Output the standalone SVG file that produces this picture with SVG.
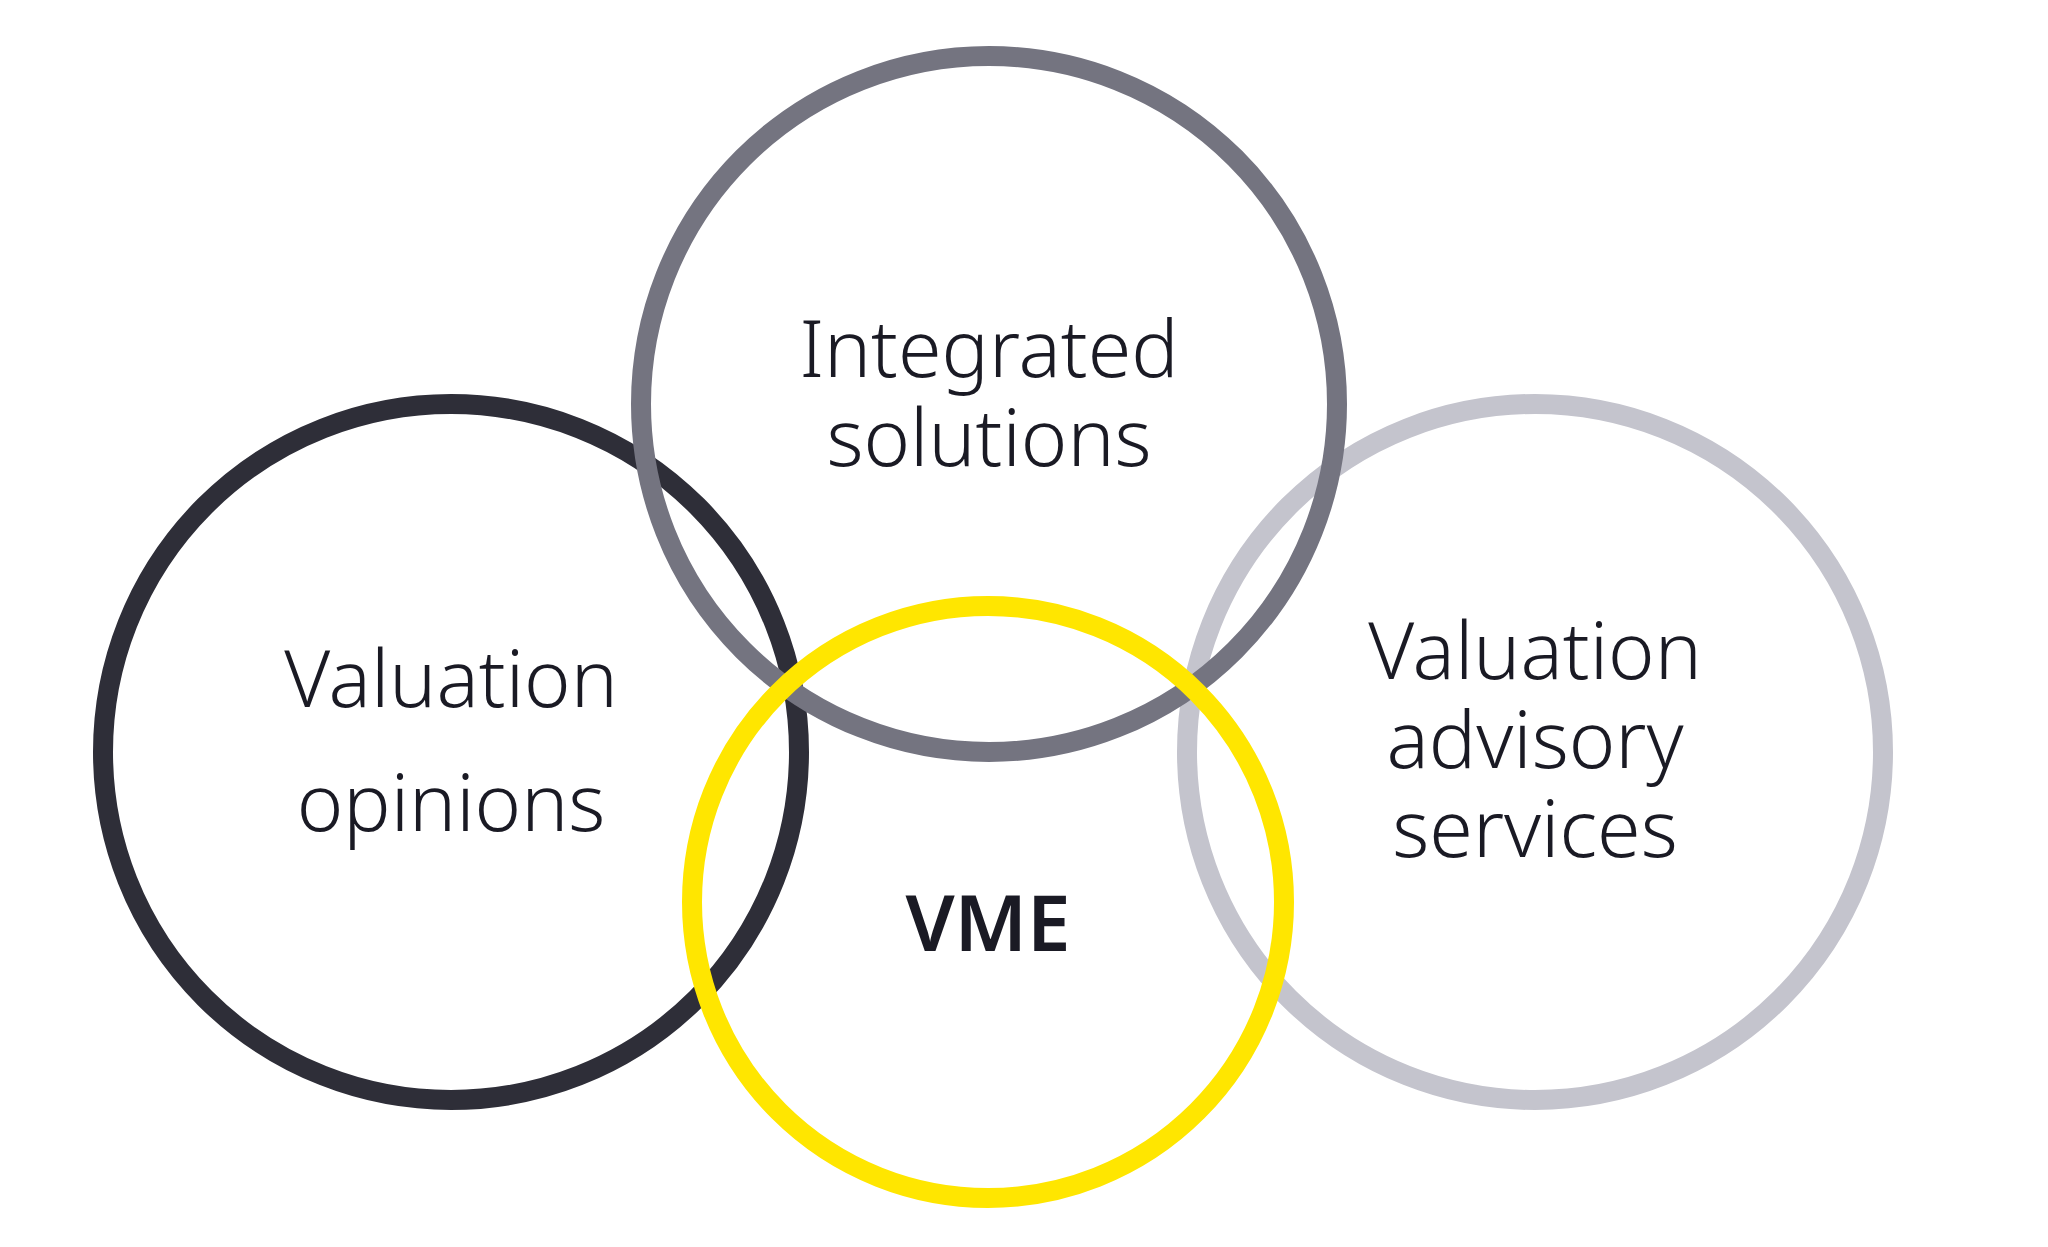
<svg xmlns="http://www.w3.org/2000/svg" width="2048" height="1247" viewBox="0 0 2048 1247">
<style>
.ring{fill:none;stroke-width:20}
.lbl{font-family:"Noto Sans","Open Sans","Liberation Sans",sans-serif;font-size:79px;font-weight:350;fill:#1a1a24;text-anchor:middle}
.bold{font-weight:600;font-size:78px}
</style>
<rect width="2048" height="1247" fill="#ffffff"/>
<g id="node-valuation-advisory-services">
<circle class="ring" cx="1535" cy="752" r="348" stroke="#c4c4cd"/>
<text class="lbl" x="1535" y="679">Valuation</text>
<text class="lbl" x="1535" y="768">advisory</text>
<text class="lbl" x="1535" y="857">services</text>
</g>
<g id="node-valuation-opinions">
<circle class="ring" cx="451" cy="752" r="348" stroke="#2e2e38"/>
<text class="lbl" x="451" y="707">Valuation</text>
<text class="lbl" x="451" y="831">opinions</text>
</g>
<g id="node-integrated-solutions">
<circle class="ring" cx="989" cy="404" r="348" stroke="#747480"/>
<text class="lbl" x="989" y="377">Integrated</text>
<text class="lbl" x="989" y="466">solutions</text>
</g>
<g id="node-vme">
<circle class="ring" cx="988" cy="902" r="296" stroke="#ffe600"/>
<text class="lbl bold" x="988" y="951">VME</text>
</g>
<g id="connectors"></g>
</svg>
